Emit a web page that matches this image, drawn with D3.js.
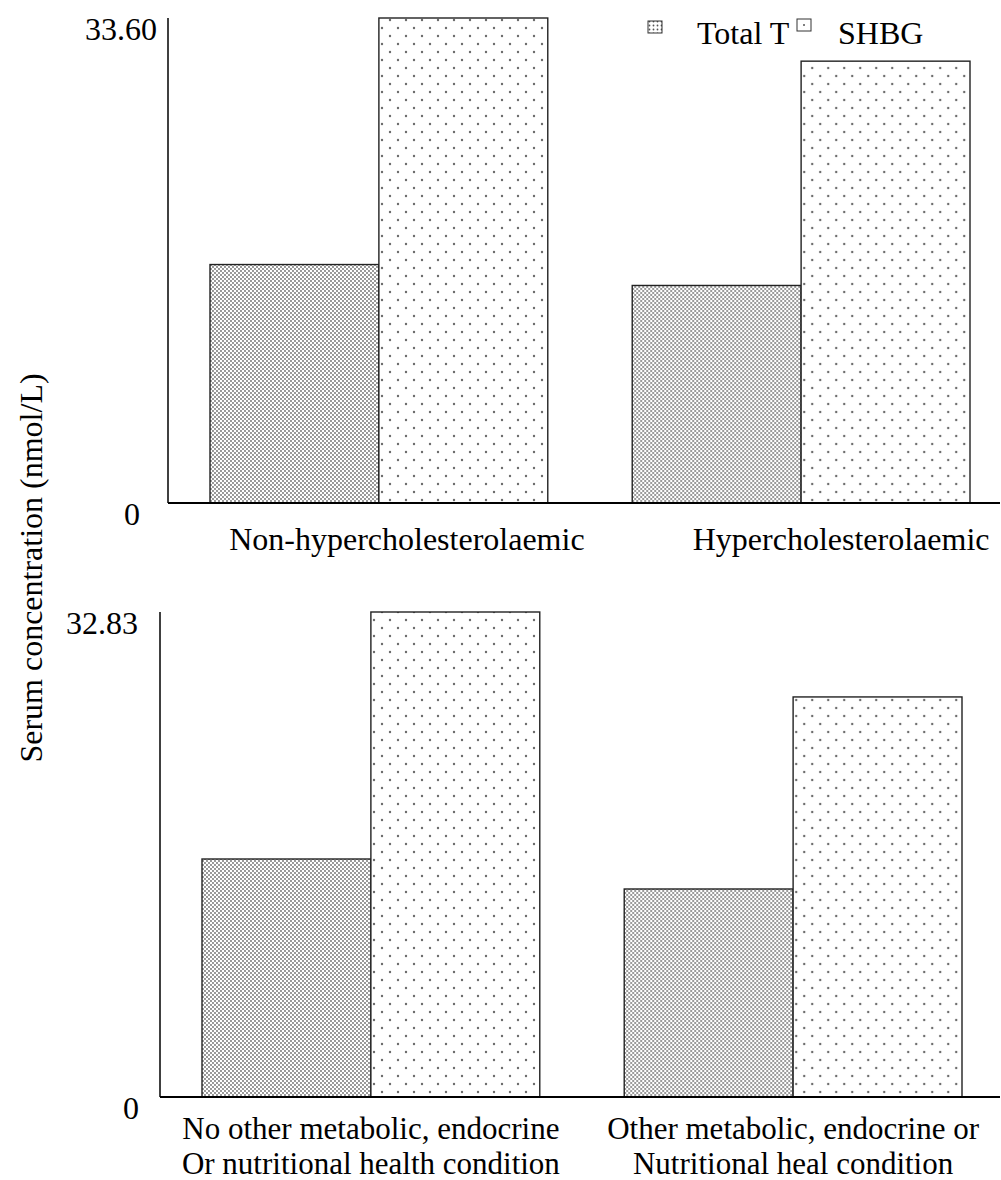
<!DOCTYPE html>
<html>
<head>
<meta charset="utf-8">
<script src="https://cdn.jsdelivr.net/npm/d3@7/dist/d3.min.js"></script>
<style>
  html, body { margin: 0; padding: 0; background: #fff; }
  text { font-family: "Liberation Serif", "Times New Roman", serif; fill: #000; }
</style>
</head>
<body>
<svg id="chart" width="1001" height="1180"></svg>
<script>
// ---- data ----
const seriesNames = ["Total T", "SHBG"];
const topCategories = ["Non-hypercholesterolaemic", "Hypercholesterolaemic"];
const topTotalT = [16.52, 15.07];
const topSHBG = [33.60, 30.61];
const topTickLabels = ["0", "33.60"];
const topMax = 33.60;

const bottomCategories = [
  ["No other metabolic, endocrine", "Or nutritional health condition"],
  ["Other metabolic, endocrine or", "Nutritional heal condition"]
];
const bottomTotalT = [16.11, 14.08];
const bottomSHBG = [32.83, 27.08];
const bottomTickLabels = ["0", "32.83"];
const bottomMax = 32.83;

const yTitle = "Serum concentration (nmol/L)";

// ---- drawing ----
const svg = d3.select("#chart");
const FS = 32;

const defs = svg.append("defs");
// dense pattern (Total T)
const pd = defs.append("pattern").attr("id", "dense").attr("patternUnits", "userSpaceOnUse")
  .attr("width", 4).attr("height", 4);
pd.append("rect").attr("width", 4).attr("height", 4).attr("fill", "#fff");
pd.append("circle").attr("cx", 1).attr("cy", 1).attr("r", 0.9).attr("fill", "#6a6a6a");
pd.append("circle").attr("cx", 3).attr("cy", 3).attr("r", 0.9).attr("fill", "#6a6a6a");
// sparse pattern (SHBG)
const ps = defs.append("pattern").attr("id", "sparse").attr("patternUnits", "userSpaceOnUse")
  .attr("width", 16).attr("height", 16);
ps.append("rect").attr("width", 16).attr("height", 16).attr("fill", "#fff");
ps.append("circle").attr("cx", 4).attr("cy", 4).attr("r", 1.2).attr("fill", "#6a6a6a");
ps.append("circle").attr("cx", 12).attr("cy", 12).attr("r", 1.2).attr("fill", "#6a6a6a");
// legend icon pattern
const pl1 = defs.append("pattern").attr("id", "leg1").attr("patternUnits", "userSpaceOnUse")
  .attr("width", 4).attr("height", 4);
pl1.append("rect").attr("width", 4).attr("height", 4).attr("fill", "#fff");
pl1.append("circle").attr("cx", 1.5).attr("cy", 1.5).attr("r", 0.9).attr("fill", "#555");

const fills = ["url(#dense)", "url(#sparse)"];

function panel(opts) {
  const g = svg.append("g");
  const x0 = d3.scaleBand().domain(d3.range(opts.totalT.length))
    .range([opts.barLeft, opts.barRight]).paddingInner(0.2);
  const x1 = d3.scaleBand().domain(seriesNames).range([0, x0.bandwidth()]);
  const y = d3.scaleLinear().domain([0, opts.max]).range([opts.base, opts.top]);

  const rows = opts.totalT.map((v, i) => ({ i, vals: [v, opts.shbg[i]] }));
  const grp = g.selectAll("g.grp").data(rows).join("g")
    .attr("class", "grp")
    .attr("transform", d => `translate(${x0(d.i)},0)`);
  grp.selectAll("rect").data(d => d.vals.map((v, k) => ({ v, k })))
    .join("rect")
    .attr("x", d => x1(seriesNames[d.k]))
    .attr("y", d => y(d.v))
    .attr("width", x1.bandwidth())
    .attr("height", d => y(0) - y(d.v))
    .attr("fill", d => fills[d.k])
    .attr("stroke", "#222").attr("stroke-width", 1.4);

  // axes
  g.append("line").attr("x1", opts.axisX).attr("x2", opts.axisX)
    .attr("y1", y(opts.max)).attr("y2", y(0)).attr("stroke", "#000").attr("stroke-width", 1.5);
  g.append("line").attr("x1", opts.axisX).attr("x2", 1000)
    .attr("y1", y(0)).attr("y2", y(0)).attr("stroke", "#000").attr("stroke-width", 2);

  // tick labels
  const tickVals = [0, opts.max];
  g.selectAll("text.tick").data(tickVals).join("text")
    .attr("class", "tick")
    .attr("x", (d, i) => opts.axisX - opts.tickOffsets[i])
    .attr("y", d => y(d) + opts.tickDy)
    .attr("text-anchor", "end")
    .attr("font-size", FS)
    .text((d, i) => opts.tickLabels[i]);

  return { g, x0, y };
}

// top panel
const topPanel = panel({
  totalT: topTotalT, shbg: topSHBG, max: topMax,
  barLeft: 210, barRight: 970, base: 503, top: 18, axisX: 168,
  tickLabels: topTickLabels, tickOffsets: [28, 11], tickDy: 22
});
const topLabelShift = [28, 40];
topPanel.g.selectAll("text.cat").data(topCategories).join("text")
  .attr("class", "cat")
  .attr("x", (d, i) => topPanel.x0(i) + topPanel.x0.bandwidth() / 2 + topLabelShift[i])
  .attr("y", 550)
  .attr("text-anchor", "middle")
  .attr("font-size", FS)
  .text(d => d);

// bottom panel
const botPanel = panel({
  totalT: bottomTotalT, shbg: bottomSHBG, max: bottomMax,
  barLeft: 202, barRight: 962, base: 1097, top: 612, axisX: 160,
  tickLabels: bottomTickLabels, tickOffsets: [21, 22], tickDy: 22
});
botPanel.g.selectAll("text.cat").data(bottomCategories).join("text")
  .attr("class", "cat")
  .attr("x", (d, i) => botPanel.x0(i) + botPanel.x0.bandwidth() / 2)
  .attr("y", 1139)
  .attr("text-anchor", "middle")
  .attr("font-size", 31)
  .selectAll("tspan").data(d => d).join("tspan")
  .attr("x", function () { return d3.select(this.parentNode).attr("x"); })
  .attr("dy", (d, i) => i === 0 ? 0 : 34.5)
  .text(d => d);

// y title
svg.append("text")
  .attr("transform", "translate(42,568) rotate(-90)")
  .attr("text-anchor", "middle")
  .attr("font-size", FS)
  .text(yTitle);

// legend
const legend = svg.append("g");
const legItems = [
  { name: seriesNames[0], bx: 648, tx: 697 },
  { name: seriesNames[1], bx: 797, tx: 838 }
];
legend.selectAll("rect").data(legItems).join("rect")
  .attr("x", d => d.bx).attr("y", (d, i) => i === 0 ? 21 : 19)
  .attr("width", 14).attr("height", 12)
  .attr("fill", (d, i) => i === 0 ? "url(#leg1)" : "#fff")
  .attr("stroke", "#333").attr("stroke-width", 1);
legend.append("circle").attr("cx", 804).attr("cy", 25).attr("r", 1).attr("fill", "#555");
legend.selectAll("text").data(legItems).join("text")
  .attr("x", d => d.tx).attr("y", 44)
  .attr("font-size", FS)
  .text(d => d.name);
</script>
</body>
</html>
